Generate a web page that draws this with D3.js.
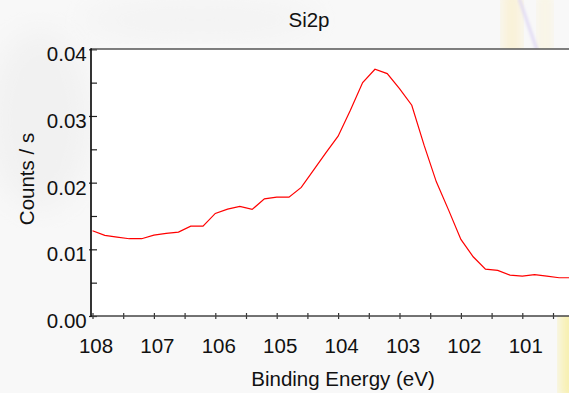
<!DOCTYPE html>
<html><head><meta charset="utf-8">
<script src="https://cdn.jsdelivr.net/npm/d3@7/dist/d3.min.js"></script>
<style>html,body{margin:0;padding:0;overflow:hidden;background:#f6f6f6}</style>
</head><body><svg id="c" width="569" height="393"></svg>
<script>
// ---- data ----
const energies = [108.0, 107.8, 107.6, 107.4, 107.2, 107.0, 106.8, 106.6, 106.4, 106.2,
                  106.0, 105.8, 105.6, 105.4, 105.2, 105.0, 104.8, 104.6, 104.4, 104.2,
                  104.0, 103.8, 103.6, 103.4, 103.2, 103.0, 102.8, 102.6, 102.4, 102.2,
                  102.0, 101.8, 101.6, 101.4, 101.2, 101.0, 100.8, 100.6, 100.4, 100.2];
const counts = [0.01278, 0.01209, 0.01184, 0.01159, 0.01159, 0.01213, 0.01238, 0.01258, 0.01348, 0.01348,
                0.01538, 0.01603, 0.01643, 0.01598, 0.01758, 0.01783, 0.01783, 0.01928, 0.02187, 0.02447,
                0.02697, 0.03086, 0.03501, 0.03700, 0.03636, 0.03411, 0.03161, 0.02562, 0.02012, 0.01588,
                0.01149, 0.00888, 0.00704, 0.00684, 0.00614, 0.00599, 0.00619, 0.00599, 0.00574, 0.00574];
const xMajorTicks = [108, 107, 106, 105, 104, 103, 102, 101];
const xMinorTicks = [107.5, 106.5, 105.5, 104.5, 103.5, 102.5, 101.5, 100.5];
const yMajorTicks = [0.00, 0.01, 0.02, 0.03, 0.04];
const yMinorTicks = [0.005, 0.015, 0.025, 0.035];
const titleText = "Si2p";
const xLabelText = "Binding Energy (eV)";
const yLabelText = "Counts / s";

// ---- layout ----
const W = 569, H = 393;
const L = 91, T = 49, B = 316, R = 600;
const FONT = "'Liberation Sans', Arial, sans-serif";

const svg = d3.select("#c");
const defs = svg.append("defs");
defs.append("filter").attr("id", "blur6").append("feGaussianBlur").attr("stdDeviation", 6);
defs.append("filter").attr("id", "blur2").append("feGaussianBlur").attr("stdDeviation", 1.5);
defs.append("filter").attr("id", "blur15").append("feGaussianBlur").attr("stdDeviation", 15);
defs.append("clipPath").attr("id", "clip").append("rect")
  .attr("x", L).attr("y", T).attr("width", R - L).attr("height", B - T);

// background
const bg = svg.append("g");
bg.append("rect").attr("width", W).attr("height", H).attr("fill", "#f8f8f8");
bg.append("ellipse").attr("cx", 40).attr("cy", 120).attr("rx", 50).attr("ry", 90)
  .attr("fill", "#f1f1f1").attr("filter", "url(#blur15)");
bg.append("ellipse").attr("cx", 200).attr("cy", 20).attr("rx", 120).attr("ry", 20)
  .attr("fill", "#f3f3f3").attr("filter", "url(#blur15)");
bg.append("rect").attr("x", 502).attr("y", -10).attr("width", 20).attr("height", 70)
  .attr("fill", "#fbe9b0").attr("opacity", 0.45).attr("filter", "url(#blur6)");
bg.append("rect").attr("x", 538).attr("y", -10).attr("width", 14).attr("height", 70)
  .attr("fill", "#fbf0c4").attr("opacity", 0.4).attr("filter", "url(#blur6)");
bg.append("line").attr("x1", 519).attr("y1", -2).attr("x2", 537).attr("y2", 50)
  .attr("stroke", "#ddd6f3").attr("stroke-width", 2.5).attr("filter", "url(#blur2)");
bg.append("rect").attr("x", 560).attr("y", 305).attr("width", 30).attr("height", 95)
  .attr("fill", "#f8ee9c").attr("opacity", 0.8).attr("filter", "url(#blur6)");

// plot area
svg.append("rect").attr("x", L).attr("y", T).attr("width", R - L).attr("height", B - T).attr("fill", "#ffffff");

const x = d3.scaleLinear().domain([108, 100.5]).range([92.5, 92.5 + 7.5 * 61.4]);
const y = d3.scaleLinear().domain([0, 0.04]).range([B, 49.3]);

// line
const data = energies.map((e, i) => ({ e, c: counts[i] }));
svg.append("path").datum(data)
  .attr("clip-path", "url(#clip)")
  .attr("fill", "none").attr("stroke", "#ff0000").attr("stroke-width", 1.2)
  .attr("d", d3.line().x(d => x(d.e)).y(d => y(d.c)));

// x axis
const xAxis = d3.axisBottom(x)
  .tickValues(xMajorTicks.concat(xMinorTicks))
  .tickSizeInner(3).tickSizeOuter(0)
  .tickFormat(d => xMajorTicks.includes(d) ? d3.format("d")(d) : "");
const gx = svg.append("g").attr("transform", `translate(0,${B})`).call(xAxis);
gx.select(".domain").remove();
gx.selectAll(".tick line").attr("y1", -3).attr("y2", 3).attr("stroke", "#333").attr("stroke-width", 1.2);
gx.selectAll(".tick text").attr("y", 36.7).attr("dy", null).attr("dx", 3)
  .attr("font-family", FONT).attr("font-size", 20.5).attr("fill", "#111");

// y axis
const yAxis = d3.axisLeft(y)
  .tickValues(yMajorTicks.concat(yMinorTicks))
  .tickSizeInner(0).tickSizeOuter(0)
  .tickFormat(d => yMajorTicks.includes(d) ? d3.format(".2f")(d) : "");
const gy = svg.append("g").attr("transform", `translate(${L},0)`).call(yAxis);
gy.select(".domain").remove();
gy.selectAll(".tick line")
  .attr("x1", d => yMajorTicks.includes(d) ? -2 : 0).attr("x2", 6)
  .attr("stroke", "#222").attr("stroke-width", 1.2);
gy.selectAll(".tick text").attr("x", -4.3).attr("dy", null).attr("y", 11.4)
  .attr("font-family", FONT).attr("font-size", 20.5).attr("fill", "#111");

// frame lines
svg.append("line").attr("x1", L).attr("x2", W).attr("y1", T).attr("y2", T)
  .attr("stroke", "#555").attr("stroke-width", 1.5);
svg.append("line").attr("x1", L).attr("x2", W).attr("y1", B).attr("y2", B)
  .attr("stroke", "#444").attr("stroke-width", 1.5);
svg.append("line").attr("x1", L).attr("x2", L).attr("y1", T - 0.75).attr("y2", B + 0.75)
  .attr("stroke", "#111").attr("stroke-width", 1.7);

// titles
svg.append("text").attr("x", 309).attr("y", 27).attr("text-anchor", "middle")
  .attr("font-family", FONT).attr("font-size", 20.5).attr("fill", "#111").text(titleText);
svg.append("text").attr("x", 343).attr("y", 386).attr("text-anchor", "middle")
  .attr("font-family", FONT).attr("font-size", 20.5).attr("fill", "#111").text(xLabelText);
svg.append("text").attr("transform", "translate(34,179) rotate(-90)").attr("text-anchor", "middle")
  .attr("font-family", FONT).attr("font-size", 20.5).attr("fill", "#111").text(yLabelText);
</script></body></html>
